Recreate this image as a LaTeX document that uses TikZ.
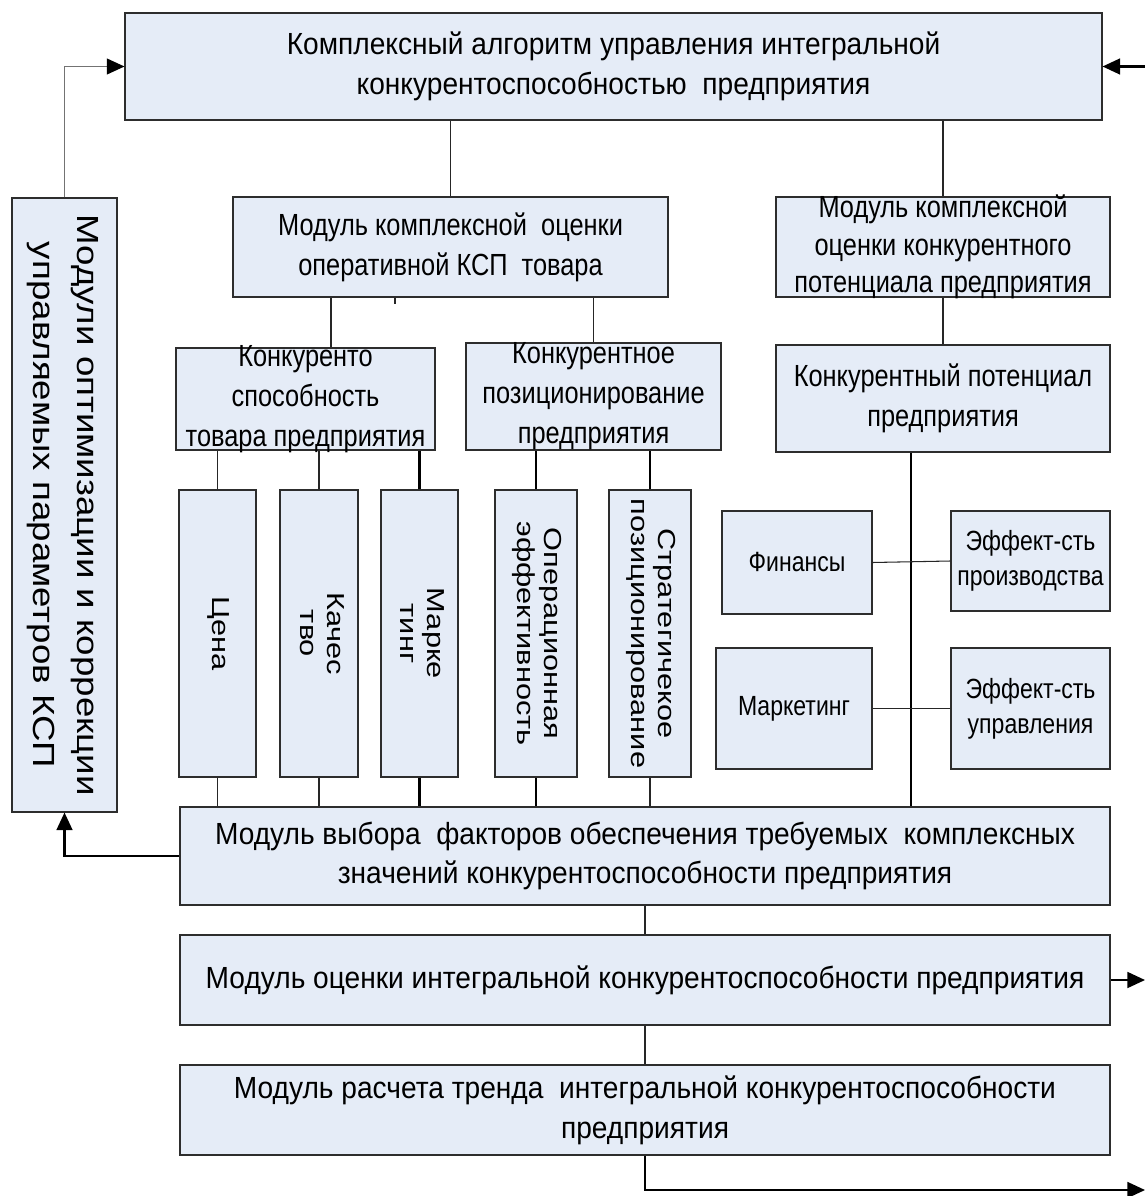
\documentclass[tikz,border=0pt]{standalone}
\usepackage{fontspec}
\usepackage{graphicx}
\setmainfont{Liberation Sans}
\newfontfamily\hfont[FakeStretch=0.92]{Liberation Sans}
\newfontfamily\sfont[FakeStretch=0.83]{Liberation Sans}
\newfontfamily\vfont[FakeStretch=1.25]{Liberation Sans}
\newfontfamily\lfont[FakeStretch=1.2]{Liberation Sans}
\usetikzlibrary{arrows.meta}

\definecolor{boxfill}{RGB}{229,236,247}
\definecolor{edge}{RGB}{45,45,45}

% text turned to read from top to bottom
\newcommand{\vlines}[1]{\rotatebox{-90}{\begin{tabular}{@{}c@{}}#1\end{tabular}}}

\tikzset{
  frame/.style={draw=edge, fill=boxfill, line width=0.6pt, inner sep=0pt, inner ysep=-20pt},
  box/.style={frame, align=center, font=\hfont\fontsize{17.4}{22.7}\selectfont},
  narrow/.style={font=\sfont\fontsize{17.4}{22.7}\selectfont},
  small/.style={frame, align=center, font=\sfont\fontsize{15.8}{19.8}\selectfont},
  bar/.style={frame, font=\vfont\fontsize{14}{15.3}\selectfont},
  sz/.style 2 args={minimum width=#1*0.02cm, minimum height=#2*0.02cm},
  link/.style={draw=black!85, line width=0.6pt},
  heavy/.style={draw=black, line width=1.2pt},
  arr/.style={-{Triangle[length=10pt,width=9pt,color=black]}, line width=1.2pt},
}

\begin{document}
\begin{tikzpicture}[x=0.02cm, y=-0.02cm]
\useasboundingbox (0,0) rectangle (1145,1196);

% Main boxes
\node[box, sz={977}{107}] (top) at (613.5,66.5)
  {Комплексный алгоритм управления интегральной\\конкурентоспособностью\ \ предприятия};
\node[frame, sz={105}{614}, font=\lfont\fontsize{17.4}{25.5}\selectfont] (opt) at (64.5,505)
  {\vlines{Модули оптимизации и коррекции\\управляемых параметров КСП}};
\node[box, narrow, sz={435}{100}] (ocKSP) at (450.5,247)
  {Модуль комплексной\ \ оценки\\оперативной КСП\ \ товара};
\node[box, sz={334}{100}, font=\sfont\fontsize{17.4}{21.3}\selectfont] (potMod) at (943,247)
  {Модуль комплексной\\оценки конкурентного\\потенциала предприятия};

% Second level
\node[box, narrow, sz={259}{102}] (kt) at (305.5,399)
  {Конкуренто\\способность\\товара предприятия};
\node[box, narrow, sz={255}{107}] (poz) at (593.5,396.5)
  {Конкурентное\\позиционирование\\предприятия};
\node[box, narrow, sz={334}{107}] (pot) at (943,398.5)
  {Конкурентный потенциал\\предприятия};

% Factor bars
\node[bar, sz={77}{287}] (cena) at (217.5,633.5) {\vlines{Цена}};
\node[bar, sz={78}{287}] (kach) at (319,633.5) {\vlines{Качес\\тво}};
\node[bar, sz={77}{287}] (mark) at (419.5,633.5) {\vlines{Марке\\тинг}};
\node[bar, sz={82}{287}] (oper) at (536,633.5) {\vlines{Операционная\\эффективность}};
\node[bar, sz={82}{287}] (strat) at (650,633.5) {\vlines{Стратегичекое\\позиционирование}};

% Potential factors
\node[small, sz={150}{103}] (fin) at (797,562.5) {Финансы};
\node[small, sz={156}{121}] (mkt) at (794,708.5) {Маркетинг};
\node[small, sz={159}{100}] (effP) at (1030.5,561) {Эффект-сть\\производства};
\node[small, sz={159}{121}] (effU) at (1030.5,708.5) {Эффект-сть\\управления};

% Lower modules
\node[box, sz={930}{98}] (vyb) at (645,856)
  {Модуль выбора\ \ факторов обеспечения требуемых\ \ комплексных\\значений конкурентоспособности предприятия};
\node[box, sz={930}{90}] (ocInt) at (645,980)
  {Модуль оценки интегральной конкурентоспособности предприятия};
\node[box, sz={930}{90}] (trend) at (645,1110)
  {Модуль расчета тренда\ \ интегральной конкурентоспособности\\предприятия};

% Free ends
\coordinate (inR) at (1145,66.5);
\coordinate (outR) at (1145,980);
\coordinate (outB) at (1145,1190);

% Connectors from the top
\draw[link] (ocKSP.north) -- (ocKSP.north |- top.south);
\draw[link] (potMod.north) -- (potMod.north |- top.south);
\draw[link] (ocKSP.south -| 395,0) -- ++(0,6);
\draw[link] (kt.north -| 331,0) -- (ocKSP.south -| 331,0);
\draw[link] (poz.north) -- (poz.north |- ocKSP.south);
\draw[link] (pot.north) -- (potMod.south);

% Bars
\foreach \b in {cena,kach} {
  \draw[link] (\b.north) -- (\b.north |- kt.south);
  \draw[link] (\b.south) -- (\b.south |- vyb.north);
}
\draw[heavy] (mark.north) -- (mark.north |- kt.south);
\draw[heavy] (mark.south) -- (mark.south |- vyb.north);
\draw[heavy] (oper.north) -- (oper.north |- poz.south);
\draw[heavy] (oper.south) -- (oper.south |- vyb.north);
\draw[heavy] (strat.north) -- (strat.north |- poz.south);
\draw[link] (strat.south) -- (strat.south |- vyb.north);

% Potential
\draw[heavy] (pot.south -| 911,0) -- (vyb.north -| 911,0);
\draw[link] (fin.east) -- (effP.west);
\draw[link] (mkt.east) -- (effU.west);

% Lower chain
\draw[link] (vyb.south) -- (ocInt.north);
\draw[link] (ocInt.south) -- (trend.north);

% Arrows
\draw[arr, draw=black!55, line width=0.8pt] (opt.north) |- (top.west);
\draw[arr] (inR) -- (top.east);
\draw[arr] (vyb.west) -| (opt.south);
\draw[arr] (ocInt.east) -- (outR);
\draw[arr] (trend.south) |- (outB);
\end{tikzpicture}
\end{document}
